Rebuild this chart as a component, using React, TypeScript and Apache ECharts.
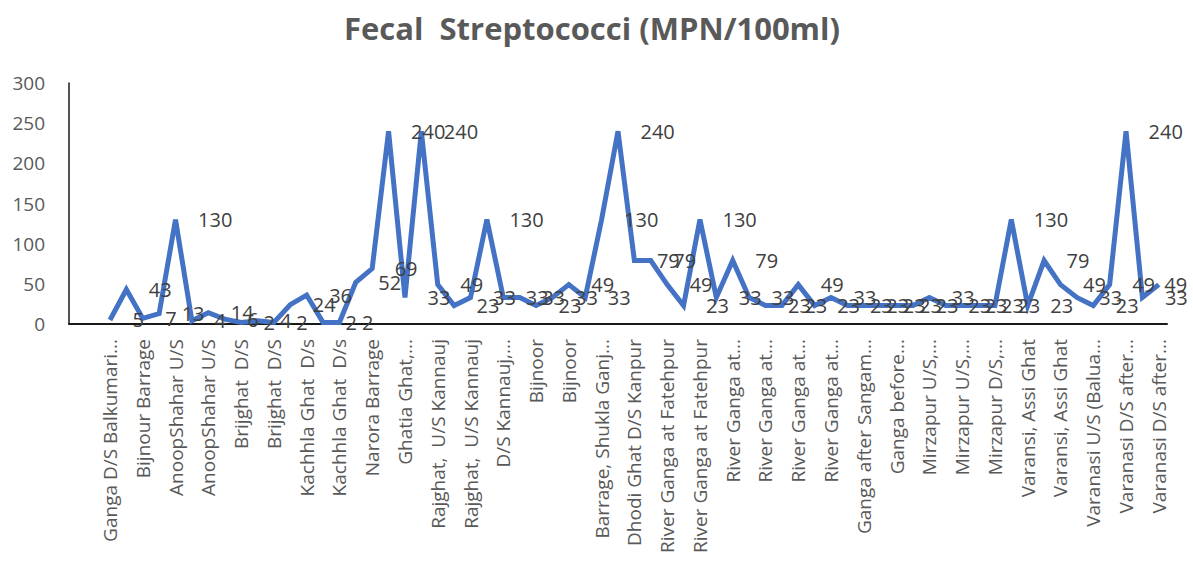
import React, { useEffect, useRef } from "react";
import * as echarts from "echarts";

const titleText = "Fecal  Streptococci (MPN/100ml)";

// Station names (every other name is shown on the axis, as in the reference)
const stations = [
  "Ganga D/S Balkumari...", "Ganga D/S Balkumari...",
  "Bijnour Barrage", "Bijnour Barrage",
  "AnoopShahar U/S", "AnoopShahar D/S",
  "AnoopShahar U/S", "AnoopShahar D/S",
  "Brijghat  D/S", "Brijghat  U/S",
  "Brijghat  D/S", "Kachhla Ghat  U/s",
  "Kachhla Ghat  D/s", "Kachhla Ghat  U/s",
  "Kachhla Ghat  D/s", "Narora Barrage",
  "Narora Barrage", "Ghatia Ghat,...",
  "Ghatia Ghat,...", "Rajghat,  U/S Kannauj",
  "Rajghat,  U/S Kannauj", "Rajghat,  U/S Kannauj",
  "Rajghat,  U/S Kannauj", "D/S Kannauj,...",
  "D/S Kannauj,...", "Bijnoor",
  "Bijnoor", "Bijnoor",
  "Bijnoor", "Barrage, Shukla Ganj...",
  "Barrage, Shukla Ganj...", "Dhodi Ghat D/S Kanpur",
  "Dhodi Ghat D/S Kanpur", "River Ganga at Fatehpur",
  "River Ganga at Fatehpur", "River Ganga at Fatehpur",
  "River Ganga at Fatehpur", "River Ganga at...",
  "River Ganga at...", "River Ganga at...",
  "River Ganga at...", "River Ganga at...",
  "River Ganga at...", "River Ganga at...",
  "River Ganga at...", "Ganga after Sangam...",
  "Ganga after Sangam...", "Ganga before...",
  "Ganga before...", "Mirzapur U/S,...",
  "Mirzapur U/S,...", "Mirzapur U/S,...",
  "Mirzapur U/S,...", "Mirzapur D/S,...",
  "Mirzapur D/S,...", "Varansi, Assi Ghat",
  "Varansi, Assi Ghat", "Varansi, Assi Ghat",
  "Varansi, Assi Ghat", "Varanasi U/S (Balua...",
  "Varanasi U/S (Balua...", "Varanasi D/S after...",
  "Varanasi D/S after...", "Varanasi D/S after...",
  "Varanasi D/S after...",
];

// Two leading empty categories on the axis
const leadingBlanks = ["", ""];

const fecalValues = [
  5, 43, 7, 13, 130, 4, 14, 6, 2, 4,
  2, 24, 36, 2, 2, 52, 69, 240, 33, 240,
  49, 23, 33, 130, 33, 33, 23, 33, 49, 33,
  130, 240, 79, 79, 49, 23, 130, 33, 79, 33,
  23, 23, 49, 23, 33, 23, 23, 23, 23, 23,
  33, 23, 23, 23, 23, 130, 23, 79, 49, 33,
  23, 49, 240, 33, 49,
];

const yTicks = { min: 0, max: 300, interval: 50 };

export default function App() {
  const ref = useRef<HTMLDivElement>(null);

  useEffect(() => {
    if (!ref.current) return;
    const chart = echarts.init(ref.current, undefined, { renderer: "svg" });
    const categories = [...leadingBlanks, ...stations];
    const lastIdx = fecalValues.length - 1;
    const seriesData: any[] = [
      ...leadingBlanks.map(() => null),
      ...fecalValues.map((v, i) =>
        i === lastIdx ? { value: v, label: { distance: 5 } } : v
      ),
    ];
    chart.setOption({
      animation: false,
      title: {
        text: titleText,
        left: 587,
        textAlign: "center",
        top: 7,
        textStyle: {
          fontFamily: "Open Sans",
          fontWeight: "bold",
          fontSize: 31,
          color: "#595959",
        },
      },
      grid: { left: 69, right: 26, top: 83, bottom: 251, containLabel: false },
      xAxis: {
        type: "category",
        data: categories,
        boundaryGap: true,
        axisLine: { show: true, lineStyle: { color: "#1a1a1a", width: 2 } },
        axisTick: { show: false },
        axisLabel: {
          interval: 1,
          rotate: 90,
          margin: 15,
          fontFamily: "Open Sans",
          fontSize: 19,
          color: "#595959",
        },
        splitLine: { show: false },
      },
      yAxis: {
        type: "value",
        min: yTicks.min,
        max: yTicks.max,
        interval: yTicks.interval,
        axisLine: { show: true, lineStyle: { color: "#1a1a1a", width: 1.5 } },
        axisTick: { show: false },
        splitLine: { show: false },
        axisLabel: {
          margin: 24,
          fontFamily: "Open Sans",
          fontSize: 19,
          color: "#595959",
        },
      },
      series: [
        {
          type: "line",
          data: seriesData,
          connectNulls: false,
          symbol: "circle",
          symbolSize: 1,
          showSymbol: true,
          itemStyle: { color: "rgba(0,0,0,0)" },
          lineStyle: { color: "#4472C4", width: 5, join: "miter", miterLimit: 10 },
          label: {
            show: true,
            position: "right",
            distance: 22,
            fontFamily: "Open Sans",
            fontSize: 20,
            color: "#404040",
          },
          labelLayout: { hideOverlap: false },
          emphasis: { disabled: true },
        },
      ],
    });
    return () => chart.dispose();
  }, []);

  return (
    <div
      ref={ref}
      style={{ position: "fixed", left: 0, top: 0, width: 1193, height: 575, background: "#fff" }}
    />
  );
}
